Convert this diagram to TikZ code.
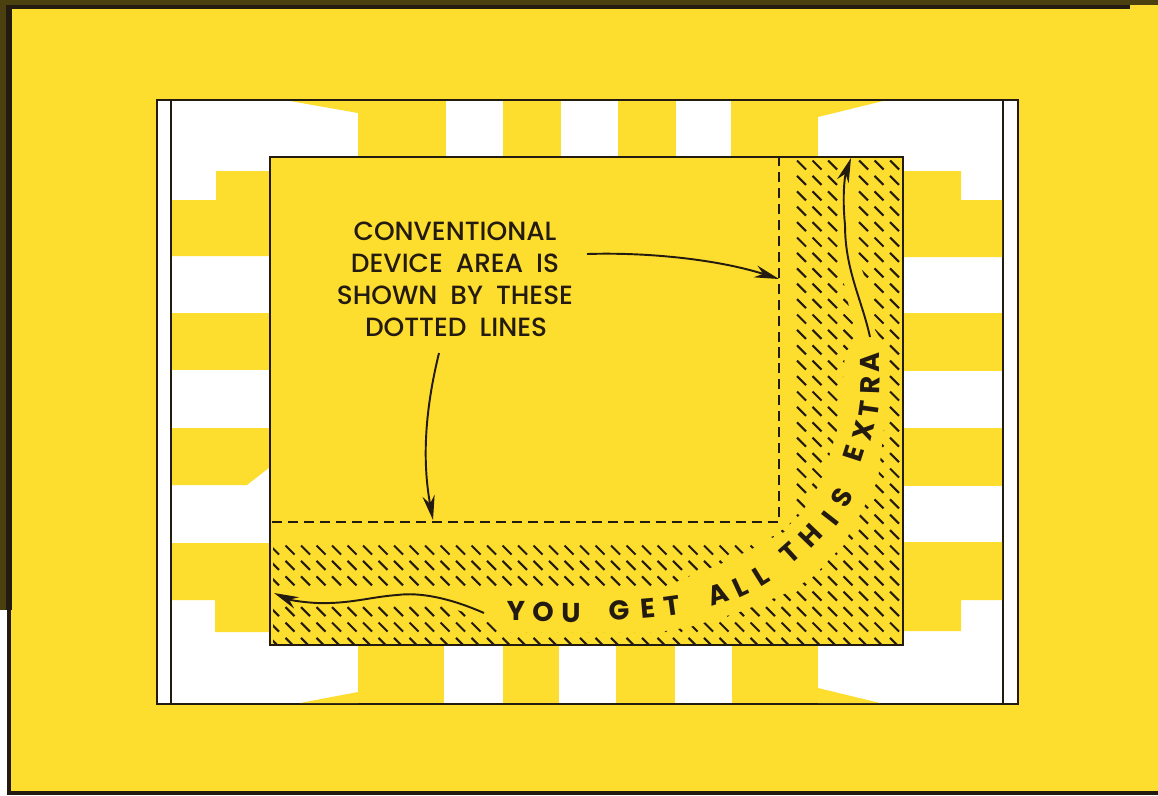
\documentclass[tikz,border=0pt]{standalone}
\usepackage{fontspec}
\setmainfont{Poppins}
\newfontfamily\labelfont{Poppins}[UprightFont=* Medium,WordSpace=1.9]
\usetikzlibrary{arrows.meta}
\definecolor{leadyellow}{HTML}{FDDD2E}
\definecolor{inkdark}{HTML}{231A10}
\definecolor{edgeolive}{HTML}{4A4010}
\tikzset{
  lead/.style={fill=leadyellow,draw=none},
  label/.style={font=\labelfont\fontsize{15}{15}\selectfont,text=inkdark,inner sep=0pt},
  extra/.style={font=\fontsize{15.5}{15.5}\selectfont\bfseries,text=inkdark,inner sep=0pt},
  pointer/.style={line width=1.1pt,inkdark,-{Stealth[length=14pt,width=7pt]}},
  hatch/.style={line width=1.2pt,inkdark},
  frameline/.style={line width=1.1pt,inkdark},
}
\begin{document}
\begin{tikzpicture}[x=0.02cm,y=-0.02cm]
\useasboundingbox (0,0) rectangle (1158,795);
\fill[leadyellow] (0,0) rectangle (1158,795);
% worn edges of the print
\fill[edgeolive] (0,0) rectangle (1158,5);
\fill[inkdark] (0,5) rectangle (1130,9);
\fill[edgeolive] (0,0) rectangle (6,610);
\fill[inkdark] (6,5) rectangle (12,610);
\fill[white] (0,610) rectangle (7,795);
\fill[inkdark] (7,610) rectangle (11,795);
\fill[inkdark] (7,791) rectangle (1158,795);
% package outline
\fill[white] (157,100) rectangle (1018,704);
\draw[frameline] (157,100) rectangle (1018,704);
\draw[frameline] (171,100) -- (171,704);
\draw[frameline] (1003,100) -- (1003,704);
% leads, left
\fill[lead] (290,101) -- (358,113) -- (358,101) -- cycle;
\fill[lead] (216,171) -- (300,171) -- (300,256) -- (172,256) -- (172,200) -- (216,200) -- cycle;
\fill[lead] (172,313) rectangle (300,370);
\fill[lead] (172,428) -- (300,428) -- (300,467) -- (270,467) -- (247,485) -- (172,485) -- cycle;
\fill[lead] (172,543) -- (300,543) -- (300,632) -- (215,632) -- (215,600) -- (172,600) -- cycle;
\fill[lead] (300,703) -- (358,692) -- (358,703) -- cycle;
% leads, top and bottom
\foreach \xa/\xb in {358/446,503/561,618/676,731/818} {
  \fill[lead] (\xa,101) rectangle (\xb,170);
}
\foreach \xa/\xb in {358/444,503/559,616/675,732/818} {
  \fill[lead] (\xa,630) rectangle (\xb,703);
}
% leads, right
\fill[lead] (818,117) -- (883,101) -- (818,101) -- cycle;
\fill[lead] (961,171) -- (880,171) -- (880,257) -- (1002,257) -- (1002,200) -- (961,200) -- cycle;
\fill[lead] (880,313) rectangle (1002,371);
\fill[lead] (880,428) rectangle (1002,486);
\fill[lead] (880,542) -- (1002,542) -- (1002,600) -- (961,600) -- (961,631) -- (880,631) -- cycle;
\fill[lead] (818,688) -- (880,703) -- (818,703) -- cycle;
% device
\fill[leadyellow] (270,157) rectangle (903,645);
\begin{scope}
\clip (795,159) -- (840,159) -- (840,260) -- (845,290) -- (857,340) -- (845,352) -- (840,420)
  -- (822,480) -- (800,515) -- (770,540) -- (725,562) -- (680,580) -- (660,590) -- (273,590)
  -- (273,543) -- (755,543) -- (795,528) -- cycle
  (858,159) -- (902,159) -- (902,644) -- (273,644) -- (273,605) -- (440,605) -- (490,620)
  -- (500,632) -- (660,632) -- (690,627) -- (740,612) -- (787,593) -- (813,577) -- (843,545)
  -- (860,515) -- (878,480) -- (885,420) -- (885,345) -- (875,330) -- (868,285) -- (858,260) -- cycle;
\foreach \i in {-1,...,39} {
  \foreach \j in {0,...,31} {
    \draw[hatch] ({290+15.5*\i-4.5},{165+15.4*\j-4.5}) -- ++(9,9);
  }
}
\end{scope}
\draw[frameline] (270,157) rectangle (903,645);
\draw[line width=1.2pt,inkdark,dash pattern=on 5.7pt off 3.4pt] (272,522) -- (779,522) -- (779,157);
% labels
\node[label] (conv) at (455,231) {CONVENTIONAL};
\node[label] (device) at (455,263) {DEVICE AREA IS};
\node[label] (shown) at (455,295) {SHOWN BY THESE};
\node[label] (dotted) at (456,327) {DOTTED LINES};
\coordinate (tipright) at (779,279);
\coordinate (tipbottom) at (433,520);
\coordinate (tailright) at (587,254);
\coordinate (tailbottom) at (439,353);
\draw[pointer] (tailright) .. controls (650,252) and (720,260) .. (tipright);
\draw[pointer] (tailbottom) .. controls (425,410) and (422,460) .. (tipbottom);
% the curved line of text, letter by letter
\foreach \letter/\px/\py/\rot [count=\n] in {Y/516/611/0,O/543/612/0,U/571/613/0,G/619/610/3,E/648/608/5,T/672/606/8,
  A/718/594/18,L/740/587/25,L/761/576/32,T/790/553/42,H/811/536/46,I/830/518/52,S/842/498/62,
  E/854/454/72,X/864/431/76,T/869/409/82,R/870/385/88,A/870/362/90} {
  \node[extra,rotate=\rot] (letter\n) at (\px,\py) {\letter};
}
\coordinate (tipup) at (851,158);
\coordinate (tailup) at (870,337);
\coordinate (tipleft) at (274,593);
\coordinate (tailleft) at (484,613);
\draw[pointer] (tailup) .. controls (862,300) and (845,270) .. (845,225) .. controls (842,195) and (845,175) .. (tipup);
\draw[pointer] (tailleft) .. controls (450,598) and (420,592) .. (397,595) .. controls (370,597) and (350,604) .. (317,603) .. controls (300,602) and (290,600) .. (tipleft);
\end{tikzpicture}
\end{document}
